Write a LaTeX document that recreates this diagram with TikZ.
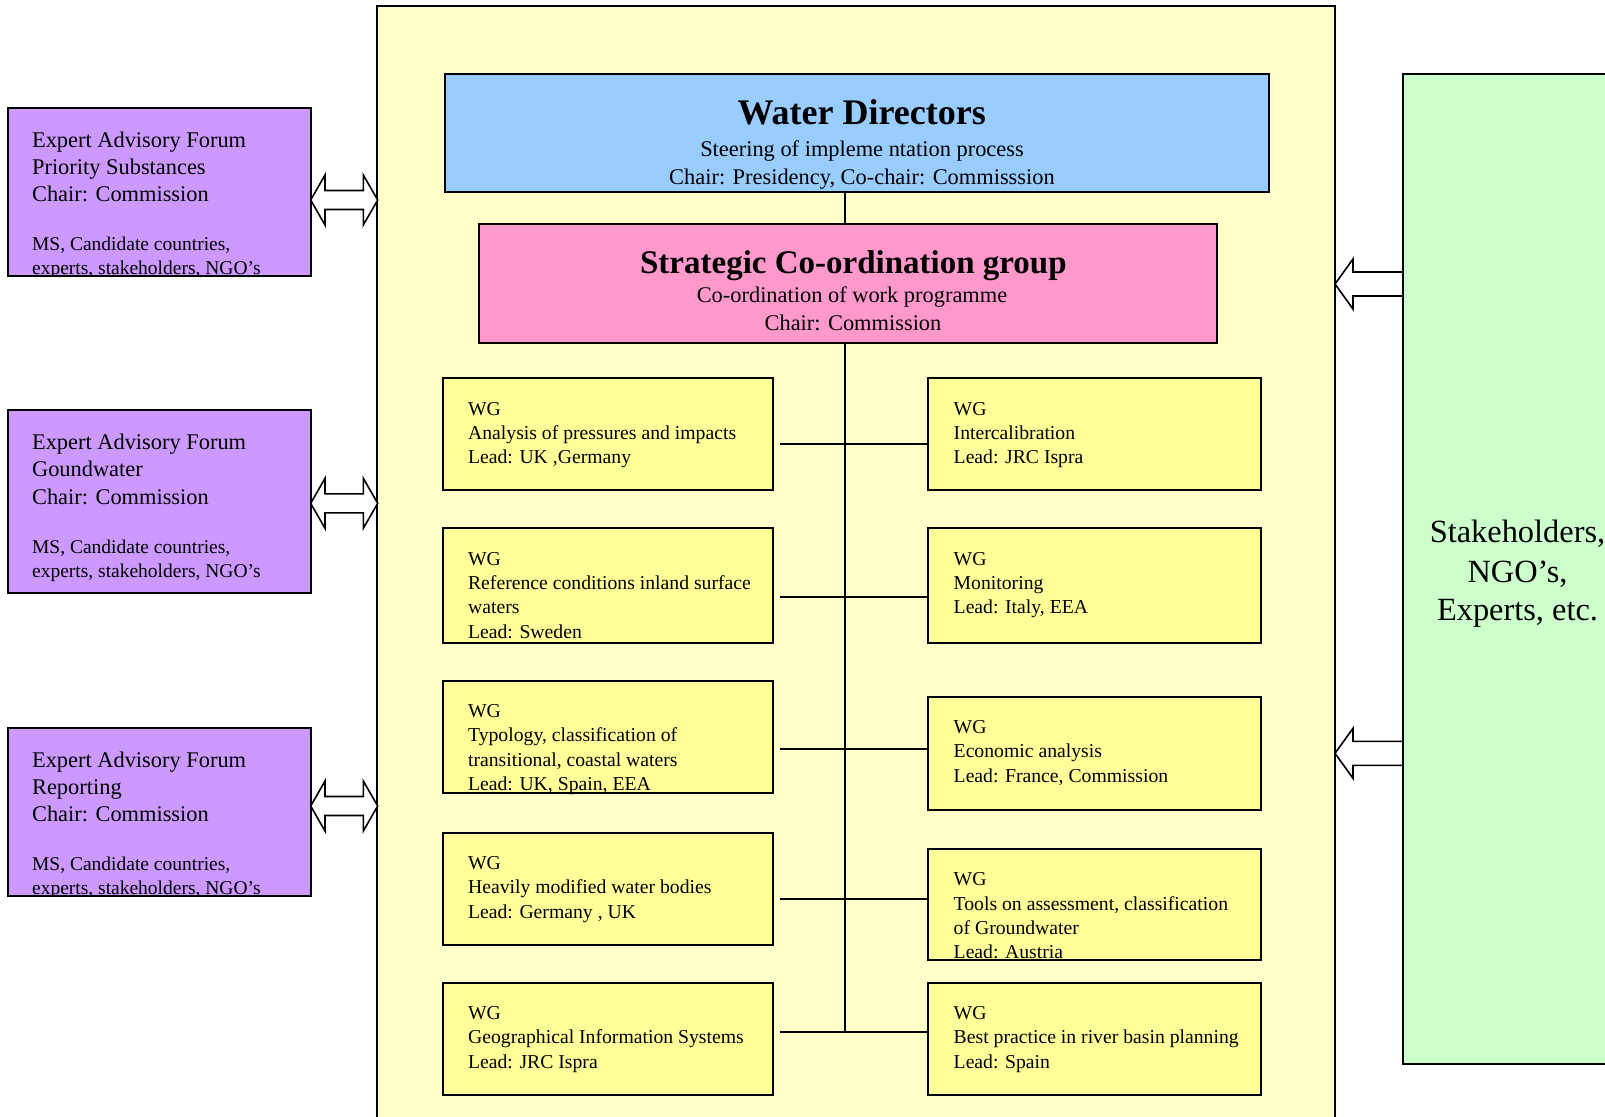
\documentclass[tikz,border=0pt]{standalone}
\usepackage{fontspec}
\setmainfont{Liberation Serif}
\usetikzlibrary{fit,calc}
\definecolor{bgyellow}{HTML}{FFFFCC}
\definecolor{wgyellow}{HTML}{FFFF99}
\definecolor{wdblue}{HTML}{99CCFF}
\definecolor{scgpink}{HTML}{FF99CC}
\definecolor{eafpurple}{HTML}{CC99FF}
\definecolor{stgreen}{HTML}{CCFFCC}
\newcommand\wgbox[5]{\node[box, fill=wgyellow, fit={(#2,#3) (#4,#5)}] (#1) {};}
\newcommand\wglines[4]{\foreach \t [count=\i from 0] in {#4} {\node[wgf] (#1-\i) at (#2, {#3+36.7+24.4*\i}) {\t};}}
\begin{document}
\begin{tikzpicture}[x=0.5pt,y=-0.5pt,
  box/.style={draw, line width=1pt, inner sep=0pt},
  conn/.style={draw, line width=0.9pt},
  barrow/.style={draw, fill=white, line width=0.8pt, line join=miter},
  wgf/.style={font=\fontsize{9.85}{12}\selectfont, anchor=base west, inner sep=0pt},
  pf/.style={font=\fontsize{11.2}{13}\selectfont, anchor=base west, inner sep=0pt},
  psf/.style={font=\fontsize{9.75}{12}\selectfont, anchor=base west, inner sep=0pt},
  ctr/.style={anchor=base, inner sep=0pt},
  midf/.style={font=\fontsize{11.2}{13}\selectfont},
]
\useasboundingbox (0,0) rectangle (1605,1116);

% main yellow frame
\node[box, line width=0.8pt, fill=bgyellow, fit={(377,6) (1335,1130)}] (main) {};

% purple forum boxes
\node[box, fill=eafpurple, fit={(8.3,108.3) (311.3,275.7)}] (p1) {};
\node[box, fill=eafpurple, fit={(8.3,410) (311.3,593.3)}] (p2) {};
\node[box, fill=eafpurple, fit={(8.3,728.3) (311.3,896)}] (p3) {};

\begin{scope}
\clip (8.3,108.3) rectangle (311.3,275);
\node[pf] (p1a) at (31.7,147.6) {Expert Advisory Forum};
\node[pf] (p1b) at (31.7,174.6) {Priority Substances};
\node[pf] (p1c) at (31.7,201.6) {Chair: Commission};
\node[psf] (p1d) at (31.7,250.6) {MS, Candidate countries,};
\node[psf] (p1e) at (31.7,274.3) {experts, stakeholders, NGO’s};
\end{scope}

\node[pf] (p2a) at (31.7,449.3) {Expert Advisory Forum};
\node[pf] (p2b) at (31.7,476.7) {Goundwater};
\node[pf] (p2c) at (31.7,504) {Chair: Commission};
\node[psf] (p2d) at (31.7,553.3) {MS, Candidate countries,};
\node[psf] (p2e) at (31.7,577.5) {experts, stakeholders, NGO’s};

\begin{scope}
\clip (8.3,728.3) rectangle (311.3,895.3);
\node[pf] (p3a) at (31.7,767.6) {Expert Advisory Forum};
\node[pf] (p3b) at (31.7,794.6) {Reporting};
\node[pf] (p3c) at (31.7,821.6) {Chair: Commission};
\node[psf] (p3d) at (31.7,870.6) {MS, Candidate countries,};
\node[psf] (p3e) at (31.7,894.3) {experts, stakeholders, NGO’s};
\end{scope}

% green stakeholder box
\node[box, fill=stgreen, fit={(1402.7,74) (1640,1064)}] (st) {};
\node[ctr, font=\fontsize{16.2}{19.5}\selectfont] (st1) at (1517.5,542.7) {Stakeholders,};
\node[ctr, font=\fontsize{16.2}{19.5}\selectfont] (st2) at (1517.5,582.7) {NGO’s,};
\node[ctr, font=\fontsize{16.2}{19.5}\selectfont] (st3) at (1517.5,620) {Experts, etc.};

% double block arrows between forums and frame
\foreach \c in {200,503.3,806} {
  \draw[barrow] (310.7,\c) -- (325,\c-25) -- (325,\c-9.5) -- (363.3,\c-9.5) -- (363.3,\c-25)
     -- (377.7,\c) -- (363.3,\c+25) -- (363.3,\c+9.5) -- (325,\c+9.5) -- (325,\c+25) -- cycle;
}
% single block arrows from stakeholders
\foreach \c in {284,753.3} {
  \draw[barrow] (1403,\c-12) -- (1353,\c-12) -- (1353,\c-25) -- (1335,\c) -- (1353,\c+25)
     -- (1353,\c+12) -- (1403,\c+12) -- cycle;
}

% Water Directors
\node[box, fill=wdblue, fit={(444.5,74) (1269,192.3)}] (wd) {};
\node[ctr, font=\fontsize{18}{20}\selectfont\bfseries] (wdt) at (861.7,124) {Water Directors};
\node[ctr, midf] (wds) at (862,156) {Steering of impleme ntation process};
\node[ctr, midf] (wdc) at (862,184) {Chair: Presidency, Co-chair: Commisssion};

% Strategic Co-ordination group
\node[box, fill=scgpink, fit={(479,224) (1217,342.7)}] (scg) {};
\node[ctr, font=\fontsize{16.5}{19}\selectfont\bfseries] (scgt) at (853.4,273.3) {Strategic Co-ordination group};
\node[ctr, midf] (scgs) at (852,302.7) {Co-ordination of work programme};
\node[ctr, midf] (scgc) at (853,330.7) {Chair: Commission};

% working group boxes
\wgbox{L1}{442.7}{378.3}{773.3}{490}
\wgbox{R1}{928.4}{378.3}{1261.3}{490}
\wgbox{L2}{442.7}{528.3}{773.3}{642.7}
\wgbox{R2}{928.4}{528.3}{1261.3}{642.7}
\wgbox{L3}{442.7}{680.7}{773.3}{792.7}
\wgbox{R3}{928.4}{696.7}{1261.3}{810}
\wgbox{L4}{442.7}{832.7}{773.3}{945}
\wgbox{R4}{928.4}{849}{1261.3}{960}
\wgbox{L5}{442.7}{982.7}{773.3}{1095}
\wgbox{R5}{928.4}{982.7}{1261.3}{1095}

\wglines{L1t}{467.7}{378.3}{WG, {Analysis of pressures and impacts}, {Lead: UK ,Germany}}
\wglines{L2t}{467.7}{528.3}{WG, {Reference conditions inland surface}, waters, {Lead: Sweden}}
\wglines{L3t}{467.7}{680.7}{WG, {Typology, classification of}, {transitional, coastal waters}, {Lead: UK, Spain, EEA}}
\wglines{L4t}{467.7}{832.7}{WG, {Heavily modified water bodies}, {Lead: Germany , UK}}
\wglines{L5t}{467.7}{982.7}{WG, {Geographical Information Systems}, {Lead: JRC Ispra}}
\wglines{R1t}{953.3}{378.3}{WG, Intercalibration, {Lead: JRC Ispra}}
\wglines{R2t}{953.3}{528.3}{WG, Monitoring, {Lead: Italy, EEA}}
\wglines{R3t}{953.3}{696.7}{WG, {Economic analysis}, {Lead: France, Commission}}
\wglines{R4t}{953.3}{849}{WG, {Tools on assessment, classification}, {of Groundwater}, {Lead: Austria}}
\wglines{R5t}{953.3}{982.7}{WG, {Best practice in river basin planning}, {Lead: Spain}}

% connectors
\coordinate (spine) at (845.3,0);
\coordinate (y1) at (0,444.3);
\coordinate (y2) at (0,596.7);
\coordinate (y3) at (0,749);
\coordinate (y4) at (0,898.7);
\coordinate (y5) at (0,1032.3);
\draw[conn] (spine |- wd.south) -- (spine |- scg.north);
\draw[conn] (spine |- scg.south) -- (spine |- y5);
\foreach \r in {1,...,5} {
  \draw[conn] ($(L\r.east |- y\r)+(5.5,0)$) -- (R\r.west |- y\r);
}
\end{tikzpicture}
\end{document}
